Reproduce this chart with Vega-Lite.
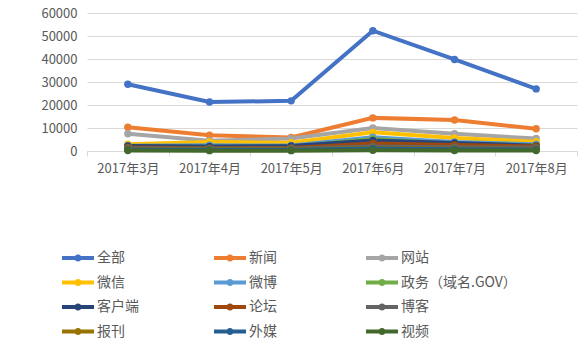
{
  "$schema": "https://vega.github.io/schema/vega-lite/v6.json",
  "width": 490,
  "height": 138,
  "autosize": "none",
  "padding": {"left": 87, "top": 13, "right": 9, "bottom": 204},
  "background": "white",
  "config": {"view": {"stroke": null}, "font": "Noto Sans CJK SC"},
  "data": {"values": [
    {"month": "2017年3月", "series": "全部", "value": 29000},
    {"month": "2017年4月", "series": "全部", "value": 21300},
    {"month": "2017年5月", "series": "全部", "value": 21800},
    {"month": "2017年6月", "series": "全部", "value": 52300},
    {"month": "2017年7月", "series": "全部", "value": 39800},
    {"month": "2017年8月", "series": "全部", "value": 27000},
    {"month": "2017年3月", "series": "新闻", "value": 10300},
    {"month": "2017年4月", "series": "新闻", "value": 6900},
    {"month": "2017年5月", "series": "新闻", "value": 5900},
    {"month": "2017年6月", "series": "新闻", "value": 14400},
    {"month": "2017年7月", "series": "新闻", "value": 13500},
    {"month": "2017年8月", "series": "新闻", "value": 9700},
    {"month": "2017年3月", "series": "网站", "value": 7500},
    {"month": "2017年4月", "series": "网站", "value": 4500},
    {"month": "2017年5月", "series": "网站", "value": 5400},
    {"month": "2017年6月", "series": "网站", "value": 10000},
    {"month": "2017年7月", "series": "网站", "value": 7500},
    {"month": "2017年8月", "series": "网站", "value": 5400},
    {"month": "2017年3月", "series": "微信", "value": 2900},
    {"month": "2017年4月", "series": "微信", "value": 3900},
    {"month": "2017年5月", "series": "微信", "value": 3600},
    {"month": "2017年6月", "series": "微信", "value": 8100},
    {"month": "2017年7月", "series": "微信", "value": 5700},
    {"month": "2017年8月", "series": "微信", "value": 4000},
    {"month": "2017年3月", "series": "微博", "value": 2300},
    {"month": "2017年4月", "series": "微博", "value": 2500},
    {"month": "2017年5月", "series": "微博", "value": 2400},
    {"month": "2017年6月", "series": "微博", "value": 6000},
    {"month": "2017年7月", "series": "微博", "value": 3900},
    {"month": "2017年8月", "series": "微博", "value": 2900},
    {"month": "2017年3月", "series": "政务（域名.GOV）", "value": 1900},
    {"month": "2017年4月", "series": "政务（域名.GOV）", "value": 1800},
    {"month": "2017年5月", "series": "政务（域名.GOV）", "value": 1900},
    {"month": "2017年6月", "series": "政务（域名.GOV）", "value": 5200},
    {"month": "2017年7月", "series": "政务（域名.GOV）", "value": 3200},
    {"month": "2017年8月", "series": "政务（域名.GOV）", "value": 2500},
    {"month": "2017年3月", "series": "客户端", "value": 2200},
    {"month": "2017年4月", "series": "客户端", "value": 2000},
    {"month": "2017年5月", "series": "客户端", "value": 2200},
    {"month": "2017年6月", "series": "客户端", "value": 4600},
    {"month": "2017年7月", "series": "客户端", "value": 3500},
    {"month": "2017年8月", "series": "客户端", "value": 2300},
    {"month": "2017年3月", "series": "论坛", "value": 1500},
    {"month": "2017年4月", "series": "论坛", "value": 1200},
    {"month": "2017年5月", "series": "论坛", "value": 1300},
    {"month": "2017年6月", "series": "论坛", "value": 3300},
    {"month": "2017年7月", "series": "论坛", "value": 2600},
    {"month": "2017年8月", "series": "论坛", "value": 2000},
    {"month": "2017年3月", "series": "博客", "value": 1200},
    {"month": "2017年4月", "series": "博客", "value": 1100},
    {"month": "2017年5月", "series": "博客", "value": 1100},
    {"month": "2017年6月", "series": "博客", "value": 2000},
    {"month": "2017年7月", "series": "博客", "value": 1600},
    {"month": "2017年8月", "series": "博客", "value": 1400},
    {"month": "2017年3月", "series": "报刊", "value": 900},
    {"month": "2017年4月", "series": "报刊", "value": 800},
    {"month": "2017年5月", "series": "报刊", "value": 800},
    {"month": "2017年6月", "series": "报刊", "value": 1300},
    {"month": "2017年7月", "series": "报刊", "value": 1000},
    {"month": "2017年8月", "series": "报刊", "value": 900},
    {"month": "2017年3月", "series": "外媒", "value": 600},
    {"month": "2017年4月", "series": "外媒", "value": 500},
    {"month": "2017年5月", "series": "外媒", "value": 500},
    {"month": "2017年6月", "series": "外媒", "value": 1100},
    {"month": "2017年7月", "series": "外媒", "value": 800},
    {"month": "2017年8月", "series": "外媒", "value": 700},
    {"month": "2017年3月", "series": "视频", "value": 200},
    {"month": "2017年4月", "series": "视频", "value": 150},
    {"month": "2017年5月", "series": "视频", "value": 150},
    {"month": "2017年6月", "series": "视频", "value": 300},
    {"month": "2017年7月", "series": "视频", "value": 250},
    {"month": "2017年8月", "series": "视频", "value": 200}
  ]},
  "encoding": {
    "x": {
      "field": "month", "type": "ordinal", "sort": null,
      "scale": {"type": "band", "paddingInner": 0, "paddingOuter": 0},
      "axis": {
        "title": null, "labelAngle": 0, "grid": false,
        "domainColor": "#D9D9D9", "tickColor": "#D9D9D9", "tickSize": 5,
        "tickBand": "extent", "labelColor": "#595959", "labelFontSize": 13,
        "labelPadding": 6
      }
    },
    "y": {
      "field": "value", "type": "quantitative",
      "scale": {"domain": [0, 60000]},
      "axis": {
        "title": null, "values": [0, 10000, 20000, 30000, 40000, 50000, 60000],
        "format": "d", "domain": false, "ticks": false, "tickSize": 0,
        "gridColor": "#D9D9D9", "labelColor": "#595959", "labelFontSize": 13,
        "labelPadding": 10
      }
    },
    "color": {
      "field": "series", "type": "nominal",
      "scale": {
        "domain": ["全部", "新闻", "网站", "微信", "微博", "政务（域名.GOV）", "客户端", "论坛", "博客", "报刊", "外媒", "视频"],
        "range": ["#4472C4", "#ED7D31", "#A5A5A5", "#FFC000", "#5B9BD5", "#70AD47", "#264478", "#9E480E", "#636363", "#997300", "#255E91", "#43682B"]
      },
      "legend": {
        "title": null, "orient": "none", "legendX": -25, "legendY": 237,
        "direction": "horizontal", "columns": 3, "gridAlign": "all",
        "columnPadding": 1, "rowPadding": 9.5, "padding": 0,
        "symbolType": "M-1,-0.25H3V0.25H-1Z M1.45,0A0.45,0.45 0 1,1 0.55,0A0.45,0.45 0 1,1 1.45,0Z",
        "symbolSize": 256, "symbolStrokeWidth": 0, "labelOffset": 19,
        "labelFontSize": 14, "labelColor": "#595959", "labelLimit": 300,
        "encode": {"symbols": {"update": {
          "fill": {"scale": "color", "field": "value"},
          "stroke": {"value": "transparent"},
          "opacity": {"value": 1}
        }}}
      }
    }
  },
  "layer": [
    {"mark": {"type": "line", "strokeWidth": 4}},
    {"mark": {"type": "point", "filled": true, "size": 55, "opacity": 1}}
  ]
}
